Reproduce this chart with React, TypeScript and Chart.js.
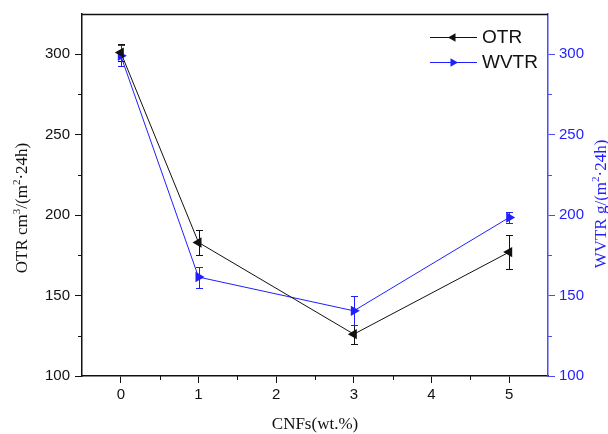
import React, { useEffect, useRef } from "react";
import { Chart, registerables } from "chart.js";

Chart.register(...registerables);

// CNF loading (wt.%)
const cnfLoading = [0, 1, 3, 5];
const xTickValues = [0, 1, 2, 3, 4, 5];
const yTickValues = [100, 150, 200, 250, 300];

// Oxygen transmission rate, cm3/(m2·24h)
const otrValues = [301, 183, 126, 177];
const otrErrors = [5.5, 7.5, 6, 10.5];

// Water vapour transmission rate, g/(m2·24h)
const wvtrValues = [299, 161.5, 140.5, 198.5];
const wvtrErrors = [6.5, 6.5, 9, 3.5];

const BLACK = "#111111";
const BLUE = "#1f1fff";
const AXIS_BLUE = "#4a4aff";
const SANS = "'Liberation Sans', Arial, sans-serif";
const SERIF = "'Liberation Serif', 'Times New Roman', serif";

type Seg = { t: string; sup?: boolean };

function drawRich(ctx: CanvasRenderingContext2D, segs: Seg[], size: number) {
  const big = `${size}px ${SERIF}`;
  const small = `${Math.round(size * 0.65)}px ${SERIF}`;
  let total = 0;
  for (const s of segs) {
    ctx.font = s.sup ? small : big;
    total += ctx.measureText(s.t).width;
  }
  let x = -total / 2;
  ctx.textBaseline = "middle";
  ctx.textAlign = "left";
  for (const s of segs) {
    ctx.font = s.sup ? small : big;
    ctx.fillText(s.t, x, s.sup ? -size * 0.35 : 0);
    x += ctx.measureText(s.t).width;
  }
}

function triangle(ctx: CanvasRenderingContext2D, x: number, y: number, r: number, dir: number) {
  // dir = -1 points left, +1 points right
  const h = 1.5 * r;
  const e = r * Math.sqrt(3);
  ctx.beginPath();
  ctx.moveTo(x + dir * (h * 2) / 3, y);
  ctx.lineTo(x - dir * h / 3, y - e / 2);
  ctx.lineTo(x - dir * h / 3, y + e / 2);
  ctx.closePath();
  ctx.fill();
}

const decorations = {
  id: "decorations",
  beforeDatasetsDraw(chart: any) {
    const ctx = chart.ctx as CanvasRenderingContext2D;
    const { left, right, top, bottom } = chart.chartArea;
    const xs = chart.scales.x;
    const yL = chart.scales.y;
    const yR = chart.scales.y1;
    ctx.save();
    // top frame line
    ctx.strokeStyle = BLACK;
    ctx.lineWidth = 1.5;
    ctx.beginPath();
    ctx.moveTo(left, top + 0.5);
    ctx.lineTo(right, top + 0.5);
    ctx.stroke();
    ctx.lineWidth = 1;
    // minor ticks on x
    ctx.beginPath();
    for (let v = -0.5; v <= 5.5; v += 1) {
      if (v <= -0.5 || v >= 5.5) continue;
      const px = Math.round(xs.getPixelForValue(v)) + 0.5;
      ctx.moveTo(px, bottom);
      ctx.lineTo(px, bottom + 4);
    }
    // minor ticks on left y
    for (let v = 125; v < 325; v += 50) {
      const py = Math.round(yL.getPixelForValue(v)) + 0.5;
      ctx.moveTo(left, py);
      ctx.lineTo(left - 4, py);
    }
    ctx.stroke();
    ctx.strokeStyle = AXIS_BLUE;
    ctx.beginPath();
    for (let v = 125; v < 325; v += 50) {
      const py = Math.round(yR.getPixelForValue(v)) + 0.5;
      ctx.moveTo(right, py);
      ctx.lineTo(right + 4, py);
    }
    ctx.stroke();

    // error bars
    const bars = (vals: number[], errs: number[], scale: any, color: string) => {
      ctx.strokeStyle = color;
      ctx.lineWidth = 1;
      ctx.beginPath();
      vals.forEach((v, i) => {
        const px = Math.round(xs.getPixelForValue(cnfLoading[i])) + 0.5;
        const t = Math.round(scale.getPixelForValue(v + errs[i])) + 0.5;
        const b = Math.round(scale.getPixelForValue(v - errs[i])) + 0.5;
        ctx.moveTo(px, t);
        ctx.lineTo(px, b);
        ctx.moveTo(px - 3.5, t);
        ctx.lineTo(px + 3.5, t);
        ctx.moveTo(px - 3.5, b);
        ctx.lineTo(px + 3.5, b);
      });
      ctx.stroke();
    };
    bars(otrValues, otrErrors, yL, BLACK);
    bars(wvtrValues, wvtrErrors, yR, BLUE);
    ctx.restore();
  },
  afterDraw(chart: any) {
    const ctx = chart.ctx as CanvasRenderingContext2D;
    const { left, right } = chart.chartArea;
    ctx.save();
    // axis titles
    ctx.fillStyle = BLACK;
    ctx.save();
    ctx.translate(23, 208);
    ctx.rotate(-Math.PI / 2);
    drawRich(ctx, [{ t: "OTR cm" }, { t: "3", sup: true }, { t: "/(m" }, { t: "2", sup: true }, { t: "·24h)" }], 17);
    ctx.restore();

    ctx.fillStyle = BLUE;
    ctx.save();
    ctx.translate(602, 204);
    ctx.rotate(-Math.PI / 2);
    drawRich(ctx, [{ t: "WVTR g/(m" }, { t: "2", sup: true }, { t: "·24h)" }], 17);
    ctx.restore();

    ctx.fillStyle = BLACK;
    ctx.save();
    ctx.translate((left + right) / 2, 425);
    drawRich(ctx, [{ t: "CNFs(wt.%)" }], 17);
    ctx.restore();

    // legend
    const entries = [
      { label: "OTR", color: BLACK, dir: -1, y: 37 },
      { label: "WVTR", color: BLUE, dir: 1, y: 62 },
    ];
    for (const e of entries) {
      ctx.strokeStyle = e.color;
      ctx.fillStyle = e.color;
      ctx.lineWidth = 1;
      ctx.beginPath();
      ctx.moveTo(430, e.y + 0.5);
      ctx.lineTo(477, e.y + 0.5);
      ctx.stroke();
      triangle(ctx, 453, e.y + 0.5, 5, e.dir);
      ctx.fillStyle = BLACK;
      ctx.font = `19px ${SANS}`;
      ctx.textAlign = "left";
      ctx.textBaseline = "middle";
      ctx.fillText(e.label, 482, e.y + 1);
    }
    ctx.restore();
  },
};

export default function App() {
  const canvasRef = useRef<HTMLCanvasElement | null>(null);

  useEffect(() => {
    if (!canvasRef.current) return;
    const chart = new Chart(canvasRef.current, {
      type: "line",
      data: {
        datasets: [
          {
            label: "OTR",
            data: cnfLoading.map((x, i) => ({ x, y: otrValues[i] })),
            borderColor: BLACK,
            backgroundColor: BLACK,
            borderWidth: 1,
            pointStyle: "triangle",
            pointRotation: -90,
            pointRadius: 6,
            pointBorderWidth: 0,
            yAxisID: "y",
          },
          {
            label: "WVTR",
            data: cnfLoading.map((x, i) => ({ x, y: wvtrValues[i] })),
            borderColor: BLUE,
            backgroundColor: BLUE,
            borderWidth: 1,
            pointStyle: "triangle",
            pointRotation: 90,
            pointRadius: 6,
            pointBorderWidth: 0,
            yAxisID: "y1",
          },
        ],
      },
      options: {
        animation: false,
        responsive: false,
        maintainAspectRatio: false,
        layout: { padding: { top: 12, left: 0, right: 0, bottom: 0 } },
        plugins: {
          legend: { display: false },
          tooltip: { enabled: false },
        },
        scales: {
          x: {
            type: "linear",
            min: -0.5,
            max: 5.5,
            afterBuildTicks: (s: any) => {
              s.ticks = xTickValues.map((v) => ({ value: v }));
            },
            afterFit: (s: any) => {
              s.height = 58;
            },
            grid: { drawOnChartArea: false, tickLength: 7, color: BLACK },
            border: { color: BLACK, width: 1.5 },
            ticks: { color: BLACK, font: { family: SANS, size: 15 }, padding: 3, maxRotation: 0 },
          },
          y: {
            type: "linear",
            position: "left",
            min: 100,
            max: 325,
            afterBuildTicks: (s: any) => {
              s.ticks = yTickValues.map((v) => ({ value: v }));
            },
            afterFit: (s: any) => {
              s.width = 82;
            },
            grid: { drawOnChartArea: false, tickLength: 7, color: BLACK },
            border: { color: BLACK, width: 1.5 },
            ticks: { color: BLACK, font: { family: SANS, size: 15 }, padding: 5 },
          },
          y1: {
            type: "linear",
            position: "right",
            min: 100,
            max: 325,
            afterBuildTicks: (s: any) => {
              s.ticks = yTickValues.map((v) => ({ value: v }));
            },
            afterFit: (s: any) => {
              s.width = 60;
            },
            grid: { drawOnChartArea: false, tickLength: 7, color: AXIS_BLUE },
            border: { color: AXIS_BLUE, width: 1.5 },
            ticks: { color: BLUE, font: { family: SANS, size: 15 }, padding: 4 },
          },
        },
      },
      plugins: [decorations],
    });
    return () => chart.destroy();
  }, []);

  return (
    <div style={{ position: "fixed", left: 0, top: 0, width: 608, height: 434, background: "#fff" }}>
      <canvas ref={canvasRef} width={608} height={434} style={{ display: "block" }} />
    </div>
  );
}
